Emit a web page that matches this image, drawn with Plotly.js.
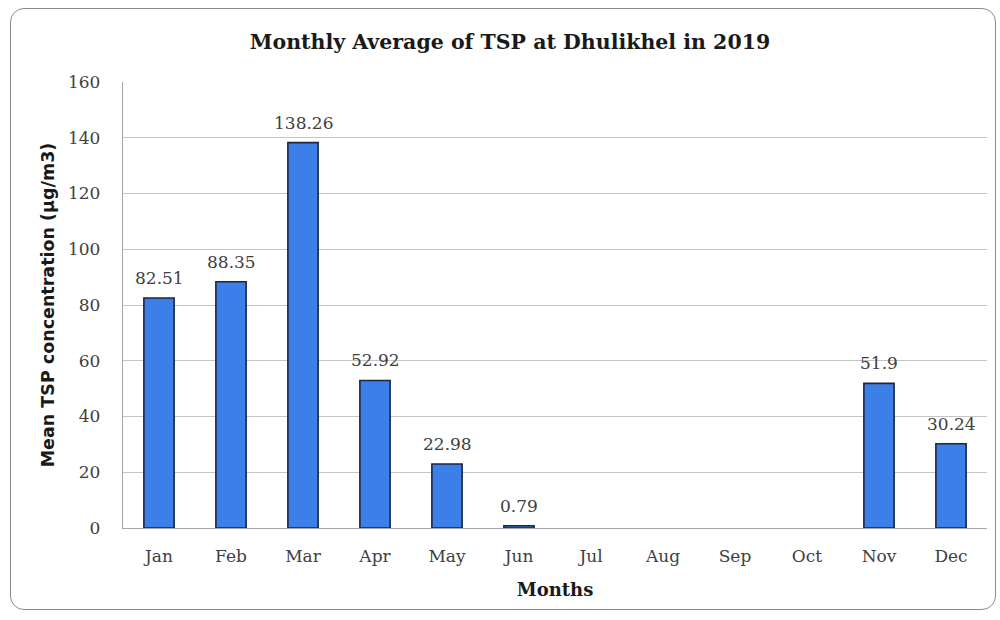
<!DOCTYPE html>
<html>
<head>
<meta charset="utf-8">
<script src="https://cdn.plot.ly/plotly-3.0.1.min.js"></script>
<style>
  html, body { margin: 0; padding: 0; background: #ffffff; }
  #wrap { position: relative; width: 1000px; height: 620px; }
  #chart { position: absolute; left: 0; top: 0; width: 1000px; height: 620px; }
  #frame { position: absolute; left: 10px; top: 8px; width: 984px; height: 600px;
           border: 1.5px solid #8c8c8c; border-radius: 14px; pointer-events: none; }
</style>
</head>
<body>
<div id="wrap">
  <div id="chart"></div>
  <div id="frame"></div>
</div>
<script>
const months = ["Jan","Feb","Mar","Apr","May","Jun","Jul","Aug","Sep","Oct","Nov","Dec"];
const tspValues = [82.51, 88.35, 138.26, 52.92, 22.98, 0.79, null, null, null, null, 51.9, 30.24];
const yTicks = [0, 20, 40, 60, 80, 100, 120, 140, 160];

const serif = "DejaVu Serif, Liberation Serif, serif";

const trace = {
  type: "bar",
  x: months,
  y: tspValues,
  marker: { color: "#3c7fe8", line: { color: "#1c2640", width: 1.6 } },
  hoverinfo: "x+y"
};

const labels = [];
months.forEach((m, i) => {
  const v = tspValues[i];
  if (v == null) return;
  labels.push({
    x: m, y: v, xref: "x", yref: "y",
    text: String(v), showarrow: false,
    yanchor: "middle", yshift: 20,
    font: { family: serif, size: 17, color: "#404040" }
  });
});

const layout = {
  width: 1000, height: 620,
  margin: { l: 123, r: 13, t: 82, b: 92 },
  paper_bgcolor: "#ffffff",
  plot_bgcolor: "#ffffff",
  bargap: 0.58,
  showlegend: false,
  annotations: labels,
  title: {
    text: "<b>Monthly Average of TSP at Dhulikhel in 2019</b>",
    font: { family: serif, size: 20.5, color: "#1a1a1a" },
    x: 0.51, xanchor: "center", y: 0.932, yanchor: "middle"
  },
  xaxis: {
    type: "category",
    categoryorder: "array",
    categoryarray: months,
    tickfont: { family: serif, size: 17, color: "#404040" },
    ticks: "", showgrid: false,
    ticklabelstandoff: 12,
    showline: true, linecolor: "#a6a6a6", linewidth: 1.2,
    title: { text: "<b>Months</b>", font: { family: serif, size: 18, color: "#1a1a1a" }, standoff: 18 }
  },
  yaxis: {
    range: [0, 160],
    tickvals: yTicks,
    ticktext: yTicks.map(String),
    tickfont: { family: serif, size: 17, color: "#404040" },
    ticks: "",
    ticklabelstandoff: 18,
    showgrid: true, gridcolor: "#c4c4c4", gridwidth: 1,
    zeroline: false,
    showline: true, linecolor: "#a6a6a6", linewidth: 1.2,
    title: { text: "<b>Mean TSP concentration (µg/m3)</b>", font: { family: "DejaVu Sans, Lato, sans-serif", size: 17.5, color: "#1a1a1a" }, standoff: 8 }
  }
};

Plotly.newPlot("chart", [trace], layout, { displayModeBar: false, staticPlot: true });
</script>
</body>
</html>
